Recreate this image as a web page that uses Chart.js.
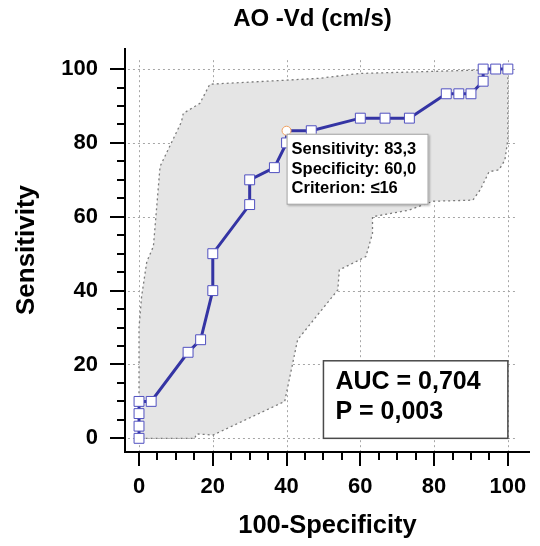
<!DOCTYPE html>
<html>
<head>
<meta charset="utf-8">
<script src="https://cdn.jsdelivr.net/npm/chart.js@4.4.0/dist/chart.umd.min.js"></script>
<style>
  html, body { margin: 0; padding: 0; background: #fff; }
  #wrap { width: 540px; height: 546px; position: relative; }
</style>
</head>
<body>
<div id="wrap"><canvas id="roc"></canvas></div>
<script>
// ROC curve points: 100-Specificity (x) against Sensitivity (y)
const fprValues  = [0, 0, 0, 0, 3.3, 13.3, 16.7, 20, 20, 30, 30, 36.7, 40, 40, 46.7, 60, 66.7, 73.3, 83.3, 86.7, 90, 93.3, 93.3, 96.7, 100];
const sensValues = [0, 3.3, 6.7, 10, 10, 23.3, 26.7, 40, 50, 63.3, 70, 73.3, 80, 83.3, 83.3, 86.7, 86.7, 86.7, 93.3, 93.3, 93.3, 96.7, 100, 100, 100];

// 95% confidence band outline (closed polygon)
const bandX = [0, 0, 0.7, 2.1, 3.9, 4.8, 5.7, 11.5, 12, 16.5, 19.2, 32.7, 49, 59.7, 91.3, 100, 100, 99.2, 97.6, 94.9, 92.5, 90.5, 79.7, 73.2, 63.3, 63.3, 61.5, 54.3, 53.9, 43.0, 39.5, 20.1, 15.6, 15.1, 0];
const bandY = [0, 30, 38.4, 47.8, 52, 62.7, 73.6, 85.7, 88, 90.7, 95.9, 96.6, 97.5, 98.8, 99.7, 100, 81, 75.4, 72.7, 72.2, 67.3, 64.5, 64.2, 61.8, 60, 55.5, 49.2, 45.6, 40.2, 26.7, 10, 0.9, 1.2, 0, 0];

// Axis ticks
const xTickValues = [0, 20, 40, 60, 80, 100];
const yTickValues = [0, 20, 40, 60, 80, 100];
const minorStep = 5;

// Texts
const chartTitle = 'AO -Vd (cm/s)';
const xTitle = '100-Specificity';
const yTitle = 'Sensitivity';
const summaryLines = ['AUC = 0,704', 'P = 0,003'];
const cutoffIndex = 13;
const cutoffLines = ['Sensitivity: 83,3', 'Specificity: 60,0', 'Criterion: \u226416'];

const FONT = "'Liberation Sans', Arial, Helvetica, sans-serif";

const rocPoints = fprValues.map((v, i) => ({ x: v, y: sensValues[i] }));
const bandPoints = bandX.map((v, i) => ({ x: v, y: bandY[i] }));

// Grid, axes, ticks, title and annotation boxes
const frame = {
  id: 'frame',
  beforeDatasetsDraw(chart) {
    const { ctx, scales: { x, y } } = chart;
    ctx.save();
    ctx.strokeStyle = '#a6a6a6';
    ctx.lineWidth = 1;
    ctx.setLineDash([2, 3]);
    xTickValues.forEach(v => {
      const px = Math.round(x.getPixelForValue(v)) + 0.5;
      ctx.beginPath();
      ctx.moveTo(px, y.getPixelForValue(102.4));
      ctx.lineTo(px, y.bottom);
      ctx.stroke();
    });
    yTickValues.forEach(v => {
      const py = Math.round(y.getPixelForValue(v)) + 0.5;
      ctx.beginPath();
      ctx.moveTo(x.getPixelForValue(-3), py);
      ctx.lineTo(x.getPixelForValue(102.2), py);
      ctx.stroke();
    });
    ctx.restore();
  },
  afterDatasetsDraw(chart) {
    const { ctx, scales: { x, y } } = chart;
    ctx.save();

    // AUC summary box
    const bl = x.getPixelForValue(50), br = x.getPixelForValue(100);
    const bt = y.getPixelForValue(21), bb = y.getPixelForValue(0);
    ctx.fillStyle = '#fff';
    ctx.fillRect(bl, bt, br - bl, bb - bt);
    ctx.strokeStyle = '#4a4a4a';
    ctx.lineWidth = 1.5;
    ctx.strokeRect(bl, bt, br - bl, bb - bt);
    ctx.fillStyle = '#000';
    ctx.font = 'bold 25px ' + FONT;
    ctx.textAlign = 'left';
    ctx.textBaseline = 'middle';
    ctx.fillText(summaryLines[0], bl + 12, bt + 21);
    ctx.fillText(summaryLines[1], bl + 12, bt + 51);

    // Criterion box next to the optimal cut-off point
    const pt = chart.getDatasetMeta(0).data[cutoffIndex];
    const tx = pt.x, ty = pt.y + 3;
    ctx.shadowColor = 'rgba(0,0,0,0.25)';
    ctx.shadowOffsetX = 1;
    ctx.shadowOffsetY = 1;
    ctx.shadowBlur = 2;
    ctx.fillStyle = '#fff';
    ctx.fillRect(tx, ty, 142, 71);
    ctx.shadowColor = 'transparent';
    ctx.strokeStyle = '#9a9a9a';
    ctx.lineWidth = 1;
    ctx.strokeRect(tx + 0.5, ty + 0.5, 141, 70);
    ctx.fillStyle = '#000';
    ctx.font = 'bold 16.5px ' + FONT;
    cutoffLines.forEach((t, i) => ctx.fillText(t, tx + 5, ty + 16 + i * 19.4));
    ctx.restore();
  },
  afterDraw(chart) {
    const { ctx, chartArea: ca, scales: { x, y } } = chart;
    ctx.save();
    ctx.strokeStyle = '#000';
    ctx.lineWidth = 2;
    // axis lines
    ctx.beginPath();
    ctx.moveTo(ca.left, ca.top);
    ctx.lineTo(ca.left, ca.bottom);
    ctx.lineTo(ca.right, ca.bottom);
    ctx.stroke();
    // major and minor tick marks
    for (let v = 0; v <= 100; v += minorStep) {
      const major = v % 20 === 0;
      const px = Math.round(x.getPixelForValue(v));
      ctx.beginPath();
      ctx.moveTo(px, ca.bottom);
      ctx.lineTo(px, ca.bottom + (major ? 14 : 8));
      ctx.stroke();
      const py = Math.round(y.getPixelForValue(v));
      ctx.beginPath();
      ctx.moveTo(ca.left, py);
      ctx.lineTo(ca.left - (major ? 15 : 8), py);
      ctx.stroke();
    }
    // chart title
    ctx.fillStyle = '#000';
    ctx.font = 'bold 24px ' + FONT;
    ctx.textAlign = 'center';
    ctx.textBaseline = 'middle';
    ctx.fillText(chartTitle, (ca.left + ca.right) / 2 - 15, 19);
    ctx.restore();
  }
};

new Chart(document.getElementById('roc'), {
  type: 'line',
  data: {
    datasets: [
      {
        label: 'ROC',
        data: rocPoints,
        borderColor: '#3434a4',
        borderWidth: 3,
        tension: 0,
        fill: false,
        pointStyle: c => c.dataIndex === cutoffIndex ? 'circle' : 'rect',
        pointRadius: c => c.dataIndex === cutoffIndex ? 4.5 : 7,
        pointBorderColor: c => c.dataIndex === cutoffIndex ? '#f0a060' : '#5050c0',
        pointBorderWidth: 1,
        pointBackgroundColor: '#ffffff'
      },
      {
        label: 'CI',
        data: bandPoints,
        borderColor: '#7a7a7a',
        borderWidth: 1.3,
        borderDash: [2, 3],
        backgroundColor: '#e5e5e5',
        fill: 'shape',
        tension: 0,
        pointRadius: 0
      }
    ]
  },
  options: {
    responsive: true,
    maintainAspectRatio: false,
    animation: false,
    events: [],
    layout: { padding: { top: 48, right: 10, bottom: 0, left: 0 } },
    plugins: {
      legend: { display: false },
      tooltip: { enabled: false },
      title: { display: false }
    },
    scales: {
      x: {
        type: 'linear',
        min: -3.8,
        max: 106,
        afterBuildTicks: s => { s.ticks = xTickValues.map(v => ({ value: v })); },
        afterFit: s => { s.height = 94; s.paddingLeft = 0; s.paddingRight = 0; },
        grid: { display: false, drawTicks: false },
        border: { display: false },
        ticks: { padding: 22, color: '#000', maxRotation: 0, autoSkip: false,
                 font: { family: FONT, size: 22, weight: 'bold' } },
        title: { display: true, text: xTitle, color: '#000',
                 font: { family: FONT, size: 25.5, weight: 'bold' },
                 padding: { top: 0, bottom: 5 } }
      },
      y: {
        type: 'linear',
        min: -3.7,
        max: 105.7,
        afterBuildTicks: s => { s.ticks = yTickValues.map(v => ({ value: v })); },
        afterFit: s => { s.width = 125; s.paddingTop = 0; s.paddingBottom = 0; },
        grid: { display: false, drawTicks: false },
        border: { display: false },
        ticks: { padding: 27, color: '#000', autoSkip: false,
                 font: { family: FONT, size: 22, weight: 'bold' } },
        title: { display: true, text: yTitle, color: '#000',
                 font: { family: FONT, size: 26, weight: 'bold' },
                 padding: { top: 11, bottom: 0 } }
      }
    }
  },
  plugins: [frame]
});
</script>
</body>
</html>
